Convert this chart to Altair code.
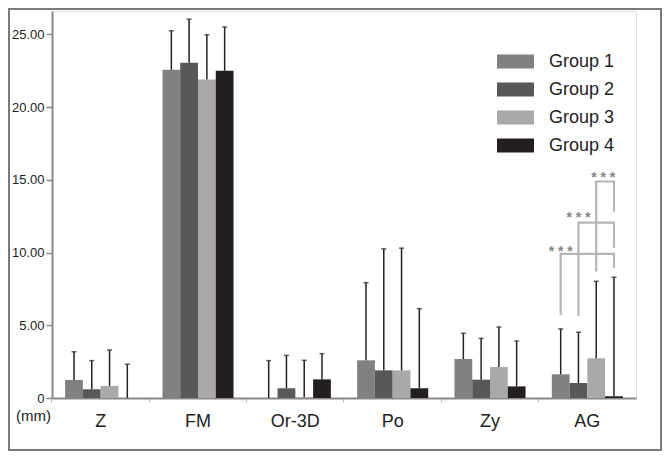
import altair as alt
import pandas as pd

sites = ["Z", "FM", "Or-3D", "Po", "Zy", "AG"]
groups = ["Group 1", "Group 2", "Group 3", "Group 4"]
colors = ["#818183", "#58585a", "#a9a9ab", "#231f20"]

# mean values per site (one list per group)
mean_g1 = [1.24, 22.56, 0.00, 2.59, 2.68, 1.63]
mean_g2 = [0.60, 23.04, 0.67, 1.90, 1.26, 1.03]
mean_g3 = [0.83, 21.90, 0.05, 1.90, 2.13, 2.73]
mean_g4 = [0.00, 22.49, 1.28, 0.67, 0.80, 0.12]
# standard deviations (upper error bars)
sd_g1 = [1.94, 2.68, 2.57, 5.34, 1.77, 3.12]
sd_g2 = [1.97, 3.00, 2.26, 8.35, 2.84, 3.49]
sd_g3 = [2.47, 3.07, 2.54, 8.40, 2.75, 5.29]
sd_g4 = [2.32, 3.01, 1.77, 5.47, 3.12, 8.18]

# significance brackets in AG (path points: group, y)
br_id = ["A", "A", "A", "A", "B", "B", "B", "B", "C", "C", "C", "C"]
br_grp = ["Group 1", "Group 1", "Group 4", "Group 4",
          "Group 2", "Group 2", "Group 4", "Group 4",
          "Group 3", "Group 3", "Group 4", "Group 4"]
br_y = [5.71, 9.90, 9.90, 8.94,
        5.64, 12.06, 12.06, 10.32,
        8.69, 14.88, 14.88, 12.81]
br_ord = [0, 1, 2, 3] * 3

star_id = ["A", "B", "C"]
star_grp = ["Group 1", "Group 2", "Group 3"]
star_y = [10.32, 12.65, 15.40]
star_txt = ["* * *", "* * *", "* * *"]

rows = []
for gi, (m, s) in enumerate(zip([mean_g1, mean_g2, mean_g3, mean_g4],
                                [sd_g1, sd_g2, sd_g3, sd_g4])):
    for si, site in enumerate(sites):
        rows.append({"site": site, "group": groups[gi], "mean": m[si],
                     "upper": m[si] + s[si]})
df = pd.DataFrame(rows)
br = pd.DataFrame({"id": br_id, "group": br_grp, "y": br_y, "ord": br_ord, "site": "AG"})
st = pd.DataFrame({"id": star_id, "group": star_grp, "y": star_y, "t": star_txt, "site": "AG"})

FONT = "Liberation Sans"
W, H = 584, 387

xenc = alt.X("site:N", sort=sites,
             scale=alt.Scale(paddingInner=0.27, paddingOuter=0.135),
             axis=alt.Axis(title=None, labelAngle=0, labelFontSize=18, labelColor="#222",
                           labelPadding=10, tickSize=4, tickColor="#bbb", tickWidth=1,
                           bandPosition=-0.185, domainColor="#888", domainWidth=2,
                           labelFont=FONT))
xoff = alt.XOffset("group:N", sort=groups, scale=alt.Scale(paddingInner=0, paddingOuter=0))
yscale = alt.Scale(domain=[0, 26.6], nice=False, zero=True)

bars = alt.Chart(df).mark_bar().encode(
    x=xenc,
    xOffset=xoff,
    y=alt.Y("mean:Q", scale=yscale,
            axis=alt.Axis(values=[0, 5, 10, 15, 20, 25],
                          labelExpr="datum.value == 0 ? '0' : format(datum.value, '.2f')",
                          title="(mm)", titleAngle=0, titleX=-19, titleY=H + 17,
                          titleAlign="center", titleBaseline="middle",
                          titleFontSize=15, titleFontWeight="normal", titleColor="#222",
                          titleFont=FONT,
                          labelFontSize=13, labelColor="#222", labelFont=FONT,
                          tickSize=6, tickColor="#888", tickWidth=1.5, labelPadding=2,
                          domainColor="#888", domainWidth=2, grid=False)),
    color=alt.Color("group:N", sort=groups, scale=alt.Scale(domain=groups, range=colors),
                    legend=alt.Legend(orient="none", legendX=445, legendY=32, title=None,
                                      symbolType="M-1,-0.38H1V0.38H-1Z", symbolSize=1369,
                                      symbolStrokeWidth=0, symbolOpacity=1,
                                      labelFontSize=18, labelFont=FONT, labelColor="#222",
                                      labelOffset=15, rowPadding=-10)),
)

err = alt.Chart(df).mark_rule(color="#222", strokeWidth=1.5).encode(
    x=alt.X("site:N", sort=sites), xOffset=alt.XOffset("group:N", sort=groups),
    y=alt.Y("mean:Q"), y2="upper:Q")

cap = alt.Chart(df).mark_tick(color="#222", thickness=1.5, size=5, orient="horizontal").encode(
    x=alt.X("site:N", sort=sites), xOffset=alt.XOffset("group:N", sort=groups),
    y=alt.Y("upper:Q"))

brackets = alt.Chart(br).mark_line(color="#b5b5b5", strokeWidth=2.2, interpolate="linear").encode(
    x=alt.X("site:N", sort=sites), xOffset=alt.XOffset("group:N", sort=groups),
    y=alt.Y("y:Q"), detail="id:N", order="ord:Q")

stars_ab = alt.Chart(st).transform_filter("datum.id != 'C'").mark_text(
    color="#858585", fontSize=14, fontWeight="bold", font=FONT, baseline="alphabetic", dy=8).encode(
    x=alt.X("site:N", sort=sites), xOffset=alt.XOffset("group:N", sort=groups),
    y=alt.Y("y:Q"), text="t:N")
stars_c = alt.Chart(st).transform_filter("datum.id == 'C'").mark_text(
    color="#858585", fontSize=14, fontWeight="bold", font=FONT, baseline="alphabetic", dy=8, dx=7).encode(
    x=alt.X("site:N", sort=sites), xOffset=alt.XOffset("group:N", sort=groups),
    y=alt.Y("y:Q"), text="t:N")

frame = alt.Chart(pd.DataFrame({"a": [0]})).mark_rect(
    filled=False, stroke="#7a7a7a", strokeWidth=2).encode(
    x=alt.value(-43), x2=alt.value(W + 25), y=alt.value(-2), y2=alt.value(H + 52))

chart = alt.layer(bars, err, cap, brackets, stars_ab, stars_c, frame).properties(
    width=W, height=H,
    autosize=alt.AutoSizeParams(type="none"),
    padding={"left": 44, "top": 3, "right": 26, "bottom": 53},
).configure_view(stroke=None).configure(font=FONT)

chart.save("out.html", embed_options={"renderer": "svg", "actions": False})
